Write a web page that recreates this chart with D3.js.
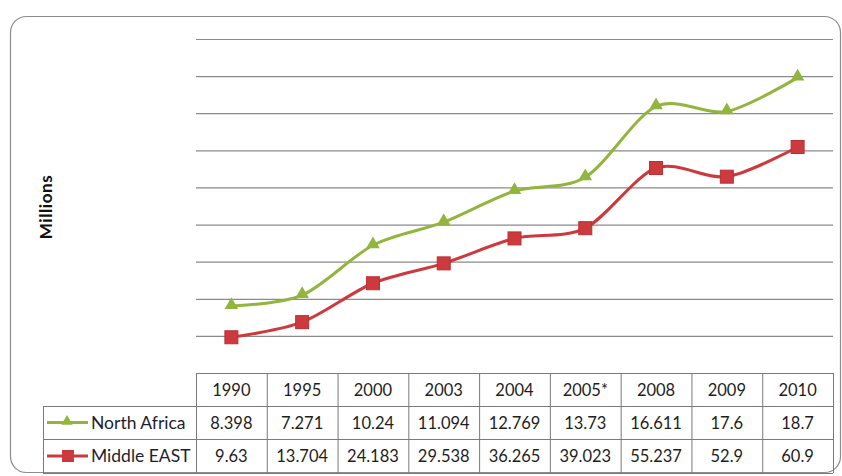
<!DOCTYPE html>
<html>
<head>
<meta charset="utf-8">
<script src="https://cdn.jsdelivr.net/npm/d3@7"></script>
<style>
  body { margin: 0; background: #fff; }
  text { font-family: Lato, "Open Sans", sans-serif; }
</style>
</head>
<body>
<div id="chart"></div>
<script>
// data
var years = ['1990', '1995', '2000', '2003', '2004', '2005*', '2008', '2009', '2010']
var northAfrica = [8.398, 7.271, 10.24, 11.094, 12.769, 13.73, 16.611, 17.6, 18.7]
var middleEast = [9.63, 13.704, 24.183, 29.538, 36.265, 39.023, 55.237, 52.9, 60.9]
var seriesNames = ['North Africa', 'Middle EAST']
var yTicks = [0, 10, 20, 30, 40, 50, 60, 70, 80, 90]

var width = 842
var height = 476
var plot = { left: 196, right: 833, top: 39, bottom: 373 }
var green = '#92b53d'
var red = '#cc3a3d'

var svg = d3.select('#chart')
  .append('svg')
  .attr('width', width)
  .attr('height', height)

// outer rounded frame
svg.append('rect')
  .attr('x', 10.5)
  .attr('y', 16.5)
  .attr('width', 830)
  .attr('height', 456)
  .attr('rx', 16)
  .attr('fill', 'none')
  .attr('stroke', '#8c8c8c')
  .attr('stroke-width', 1.2)

// scales
var xPositionScale = d3.scaleBand()
  .domain(years)
  .range([plot.left, plot.right])

var yPositionScale = d3.scaleLinear()
  .domain([0, 90])
  .range([plot.bottom, plot.top])

// gridlines
svg.append('g')
  .selectAll('line')
  .data(yTicks.slice(1))
  .enter()
  .append('line')
  .attr('x1', plot.left)
  .attr('x2', plot.right)
  .attr('y1', d => yPositionScale(d) + 0.5)
  .attr('y2', d => yPositionScale(d) + 0.5)
  .attr('stroke', '#8a8a8a')
  .attr('stroke-width', 1.2)

// y label
svg.append('text')
  .attr('transform', 'translate(52,207) rotate(-90)')
  .attr('text-anchor', 'middle')
  .style('font-size', '17px')
  .style('font-weight', 'bold')
  .style('letter-spacing', '0.6px')
  .attr('fill', '#111')
  .text('Millions')

// stacked series (Middle EAST at bottom, North Africa on top)
var meStack = middleEast.map((v, i) => ({ year: years[i], value: v }))
var naStack = northAfrica.map((v, i) => ({ year: years[i], value: v + middleEast[i] }))

var line = d3.line()
  .x(d => xPositionScale(d.year) + xPositionScale.bandwidth() / 2)
  .y(d => yPositionScale(d.value))
  .curve(d3.curveCardinal.tension(0.1))

svg.append('path')
  .datum(meStack)
  .attr('d', line)
  .attr('fill', 'none')
  .attr('stroke', red)
  .attr('stroke-width', 3)

svg.append('path')
  .datum(naStack)
  .attr('d', line)
  .attr('fill', 'none')
  .attr('stroke', green)
  .attr('stroke-width', 3)

var triangle = d3.symbol().type(d3.symbolTriangle).size(80)

svg.append('g')
  .selectAll('rect')
  .data(meStack)
  .enter()
  .append('rect')
  .attr('x', d => xPositionScale(d.year) + xPositionScale.bandwidth() / 2 - 6.5)
  .attr('y', d => yPositionScale(d.value) - 6.5)
  .attr('width', 13)
  .attr('height', 13)
  .attr('fill', red)
  .attr('stroke', '#b93034')
  .attr('stroke-width', 1)

svg.append('g')
  .selectAll('path')
  .data(naStack)
  .enter()
  .append('path')
  .attr('d', triangle)
  .attr('transform', d => `translate(${xPositionScale(d.year) + xPositionScale.bandwidth() / 2},${yPositionScale(d.value) - 1})`)
  .attr('fill', green)

// data table
var rowTop = [373, 406, 439]
var rowBottom = 473
var legendLeft = 43
var tbl = svg.append('g').attr('class', 'table')
var border = '#7a7a7a'

// header row border (years only)
tbl.append('line')
  .attr('x1', plot.left).attr('x2', plot.right)
  .attr('y1', rowTop[0] + 0.5).attr('y2', rowTop[0] + 0.5)
  .attr('stroke', border)
rowTop.slice(1).concat([rowBottom]).forEach(function(y) {
  tbl.append('line')
    .attr('x1', legendLeft).attr('x2', plot.right)
    .attr('y1', y + 0.5).attr('y2', y + 0.5)
    .attr('stroke', border)
})
tbl.append('line')
  .attr('x1', legendLeft + 0.5).attr('x2', legendLeft + 0.5)
  .attr('y1', rowTop[1]).attr('y2', rowBottom)
  .attr('stroke', border)
years.forEach(function(yr) {
  var x = xPositionScale(yr)
  tbl.append('line')
    .attr('x1', x + 0.5).attr('x2', x + 0.5)
    .attr('y1', rowTop[0]).attr('y2', rowBottom)
    .attr('stroke', border)
})
tbl.append('line')
  .attr('x1', plot.right + 0.5).attr('x2', plot.right + 0.5)
  .attr('y1', rowTop[0]).attr('y2', rowBottom)
  .attr('stroke', border)

var cellText = function(g, list, y) {
  g.selectAll(null)
    .data(list)
    .enter()
    .append('text')
    .attr('x', (d, i) => xPositionScale(years[i]) + xPositionScale.bandwidth() / 2)
    .attr('y', y)
    .attr('text-anchor', 'middle')
    .style('font-size', '16.5px')
    .attr('fill', '#1e1e1e')
    .text(d => d)
}
cellText(tbl, years, 396)
cellText(tbl, northAfrica, 429)
cellText(tbl, middleEast, 462)

// legend keys in table
var keys = [
  { name: seriesNames[0], color: green, y: 422.5, marker: 'tri' },
  { name: seriesNames[1], color: red, y: 456, marker: 'sq' }
]
keys.forEach(function(k) {
  tbl.append('line')
    .attr('x1', 47).attr('x2', 88)
    .attr('y1', k.y).attr('y2', k.y)
    .attr('stroke', k.color)
    .attr('stroke-width', 3)
  if (k.marker === 'tri') {
    tbl.append('path')
      .attr('d', d3.symbol().type(d3.symbolTriangle).size(55))
      .attr('transform', `translate(67,${k.y - 1})`)
      .attr('fill', k.color)
  } else {
    tbl.append('rect')
      .attr('x', 62).attr('y', k.y - 6)
      .attr('width', 12).attr('height', 12)
      .attr('fill', k.color)
  }
  tbl.append('text')
    .attr('x', 91)
    .attr('y', k.y + 6)
    .style('font-size', '17.5px')
    .attr('fill', '#1e1e2e')
    .text(k.name)
})
</script>
</body>
</html>
